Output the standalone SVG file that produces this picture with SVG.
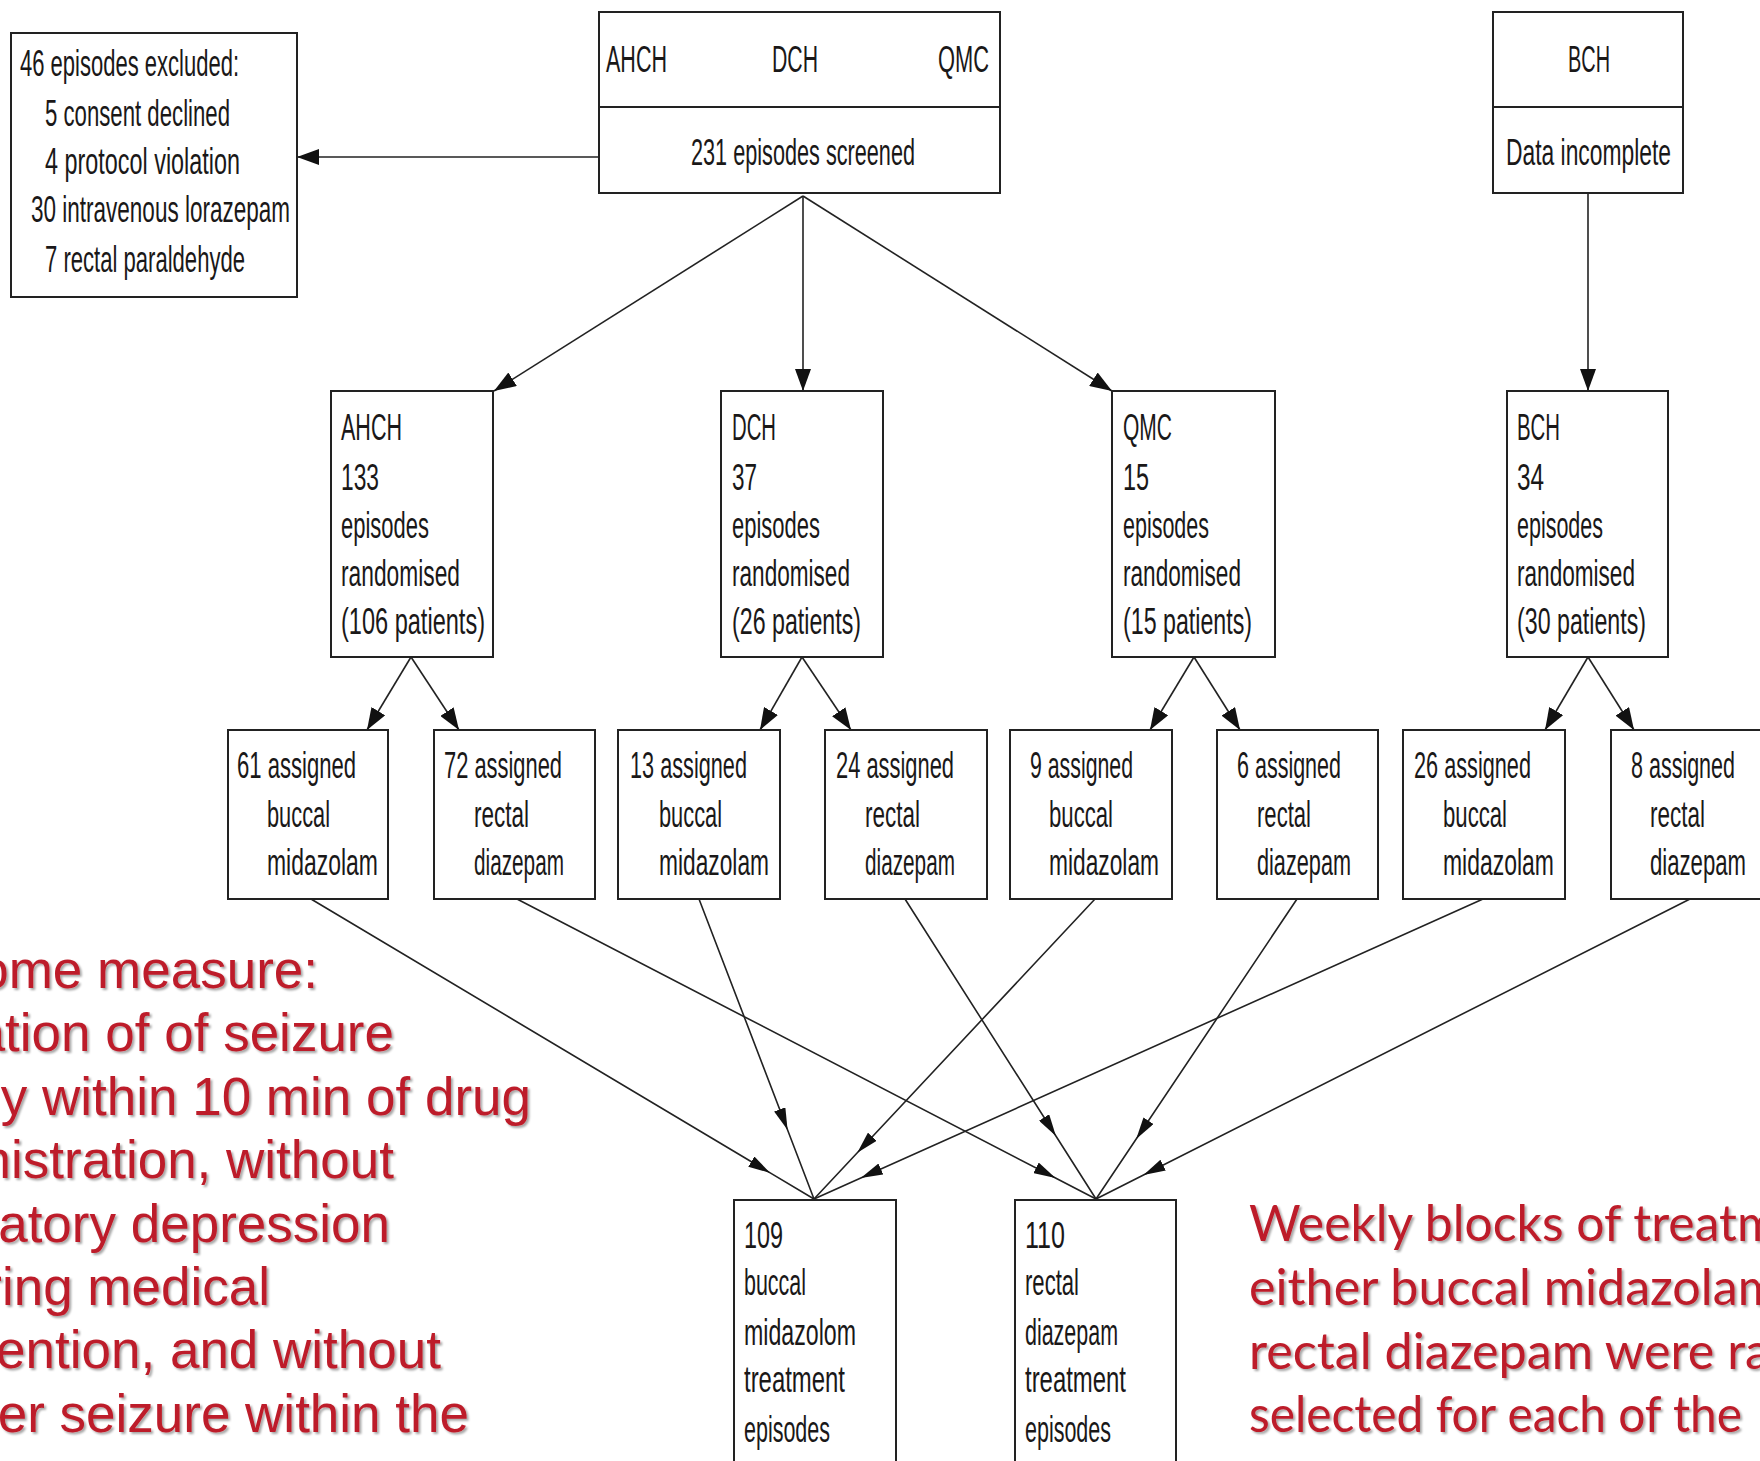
<svg xmlns="http://www.w3.org/2000/svg" width="1760" height="1461" viewBox="0 0 1760 1461">
<defs>
<style>
.box{fill:#fff;stroke:#222;stroke-width:2}
.t{font-family:'Liberation Sans',Arial,sans-serif;font-size:37px;fill:#1a1818}
.conn path{stroke:#222;stroke-width:1.6;fill:none}
.red{font-family:'Liberation Sans',Arial,sans-serif;font-size:53px;fill:#bd1d29;filter:url(#sh)}
.red2{font-family:Lato,'Open Sans',sans-serif;font-size:50px;fill:#bd1d29;filter:url(#sh)}
</style>
<marker id="ah" markerUnits="userSpaceOnUse" markerWidth="22" markerHeight="16" refX="22" refY="8" orient="auto">
<path d="M0,0 L22,8 L0,16 z" fill="#111"/>
</marker>
<marker id="am" markerUnits="userSpaceOnUse" markerWidth="22" markerHeight="12" refX="22" refY="6" orient="auto">
<path d="M0,0 L22,6 L0,12 z" fill="#111"/>
</marker>
<filter id="sh" x="-5%" y="-20%" width="110%" height="150%">
<feDropShadow dx="2" dy="2" stdDeviation="1.2" flood-color="#000" flood-opacity="0.35"/>
</filter>
</defs>
<rect width="1760" height="1461" fill="#fff"/>

<g id="connectors" class="conn">
<path d="M599,157 L297,157" marker-end="url(#ah)"/>
<path d="M803,196 L494,391" marker-end="url(#ah)"/>
<path d="M803,196 L803,391" marker-end="url(#ah)"/>
<path d="M803,196 L1112,391" marker-end="url(#ah)"/>
<path d="M1588,193 L1588,391" marker-end="url(#ah)"/>
<path d="M411,657 L367,730" marker-end="url(#ah)"/>
<path d="M411,657 L459,730" marker-end="url(#ah)"/>
<path d="M802,657 L760,730" marker-end="url(#ah)"/>
<path d="M802,657 L851,730" marker-end="url(#ah)"/>
<path d="M1194,657 L1150,730" marker-end="url(#ah)"/>
<path d="M1194,657 L1240,730" marker-end="url(#ah)"/>
<path d="M1588,657 L1545,730" marker-end="url(#ah)"/>
<path d="M1588,657 L1634,730" marker-end="url(#ah)"/>
<path d="M311,899 L770.2,1172.9 L814,1199" marker-mid="url(#am)"/>
<path d="M699,899 L787.6,1130 L814,1199" marker-mid="url(#am)"/>
<path d="M1095,899 L857.3,1152.8 L814,1199" marker-mid="url(#am)"/>
<path d="M1483,899 L860.8,1178 L814,1199" marker-mid="url(#am)"/>
<path d="M517,899 L1055.5,1178 L1096,1199" marker-mid="url(#am)"/>
<path d="M905,899 L1055.9,1136 L1096,1199" marker-mid="url(#am)"/>
<path d="M1297,899 L1136.2,1139 L1096,1199" marker-mid="url(#am)"/>
<path d="M1690,899 L1143.5,1175 L1096,1199" marker-mid="url(#am)"/>
</g>

<g id="excluded">
<rect class="box" x="11" y="33" width="286" height="264"/>
<text class="t" x="20" y="76" textLength="219" lengthAdjust="spacingAndGlyphs">46 episodes excluded:</text>
<text class="t" x="45" y="126" textLength="185" lengthAdjust="spacingAndGlyphs">5 consent declined</text>
<text class="t" x="45" y="174" textLength="195" lengthAdjust="spacingAndGlyphs">4 protocol violation</text>
<text class="t" x="31" y="222" textLength="259" lengthAdjust="spacingAndGlyphs">30 intravenous lorazepam</text>
<text class="t" x="45" y="272" textLength="200" lengthAdjust="spacingAndGlyphs">7 rectal paraldehyde</text>
</g>

<g id="screened">
<rect class="box" x="599" y="12" width="401" height="181"/>
<line x1="599" y1="107" x2="1000" y2="107" stroke="#222" stroke-width="2"/>
<text class="t" x="606" y="72" textLength="61" lengthAdjust="spacingAndGlyphs">AHCH</text>
<text class="t" x="772" y="72" textLength="46" lengthAdjust="spacingAndGlyphs">DCH</text>
<text class="t" x="938" y="72" textLength="51" lengthAdjust="spacingAndGlyphs">QMC</text>
<text class="t" x="691" y="165" textLength="224" lengthAdjust="spacingAndGlyphs">231 episodes screened</text>
</g>

<g id="bch-top">
<rect class="box" x="1493" y="12" width="190" height="181"/>
<line x1="1493" y1="107" x2="1683" y2="107" stroke="#222" stroke-width="2"/>
<text class="t" x="1568" y="72" textLength="42" lengthAdjust="spacingAndGlyphs">BCH</text>
<text class="t" x="1506" y="165" textLength="165" lengthAdjust="spacingAndGlyphs">Data incomplete</text>
</g>

<g id="ahch">
<rect class="box" x="331" y="391" width="162" height="266"/>
<text class="t" x="341" y="440" textLength="61" lengthAdjust="spacingAndGlyphs">AHCH</text>
<text class="t" x="341" y="490" textLength="38" lengthAdjust="spacingAndGlyphs">133</text>
<text class="t" x="341" y="538" textLength="88" lengthAdjust="spacingAndGlyphs">episodes</text>
<text class="t" x="341" y="586" textLength="119" lengthAdjust="spacingAndGlyphs">randomised</text>
<text class="t" x="341" y="634" textLength="144" lengthAdjust="spacingAndGlyphs">(106 patients)</text>
</g>
<g id="dch">
<rect class="box" x="721" y="391" width="162" height="266"/>
<text class="t" x="732" y="440" textLength="44" lengthAdjust="spacingAndGlyphs">DCH</text>
<text class="t" x="732" y="490" textLength="25" lengthAdjust="spacingAndGlyphs">37</text>
<text class="t" x="732" y="538" textLength="88" lengthAdjust="spacingAndGlyphs">episodes</text>
<text class="t" x="732" y="586" textLength="118" lengthAdjust="spacingAndGlyphs">randomised</text>
<text class="t" x="732" y="634" textLength="129" lengthAdjust="spacingAndGlyphs">(26 patients)</text>
</g>
<g id="qmc">
<rect class="box" x="1112" y="391" width="163" height="266"/>
<text class="t" x="1123" y="440" textLength="49" lengthAdjust="spacingAndGlyphs">QMC</text>
<text class="t" x="1123" y="490" textLength="26" lengthAdjust="spacingAndGlyphs">15</text>
<text class="t" x="1123" y="538" textLength="86" lengthAdjust="spacingAndGlyphs">episodes</text>
<text class="t" x="1123" y="586" textLength="118" lengthAdjust="spacingAndGlyphs">randomised</text>
<text class="t" x="1123" y="634" textLength="129" lengthAdjust="spacingAndGlyphs">(15 patients)</text>
</g>
<g id="bch">
<rect class="box" x="1507" y="391" width="161" height="266"/>
<text class="t" x="1517" y="440" textLength="43" lengthAdjust="spacingAndGlyphs">BCH</text>
<text class="t" x="1517" y="490" textLength="27" lengthAdjust="spacingAndGlyphs">34</text>
<text class="t" x="1517" y="538" textLength="86" lengthAdjust="spacingAndGlyphs">episodes</text>
<text class="t" x="1517" y="586" textLength="118" lengthAdjust="spacingAndGlyphs">randomised</text>
<text class="t" x="1517" y="634" textLength="129" lengthAdjust="spacingAndGlyphs">(30 patients)</text>
</g>

<g id="a61">
<rect class="box" x="228" y="730" width="160" height="169"/>
<text class="t" x="237" y="778" textLength="119" lengthAdjust="spacingAndGlyphs">61 assigned</text>
<text class="t" x="267" y="827" textLength="63" lengthAdjust="spacingAndGlyphs">buccal</text>
<text class="t" x="267" y="875" textLength="111" lengthAdjust="spacingAndGlyphs">midazolam</text>
</g>
<g id="a72">
<rect class="box" x="434" y="730" width="161" height="169"/>
<text class="t" x="444" y="778" textLength="118" lengthAdjust="spacingAndGlyphs">72 assigned</text>
<text class="t" x="474" y="827" textLength="55" lengthAdjust="spacingAndGlyphs">rectal</text>
<text class="t" x="474" y="875" textLength="90" lengthAdjust="spacingAndGlyphs">diazepam</text>
</g>
<g id="a13">
<rect class="box" x="618" y="730" width="162" height="169"/>
<text class="t" x="630" y="778" textLength="117" lengthAdjust="spacingAndGlyphs">13 assigned</text>
<text class="t" x="659" y="827" textLength="63" lengthAdjust="spacingAndGlyphs">buccal</text>
<text class="t" x="659" y="875" textLength="110" lengthAdjust="spacingAndGlyphs">midazolam</text>
</g>
<g id="a24">
<rect class="box" x="825" y="730" width="162" height="169"/>
<text class="t" x="836" y="778" textLength="118" lengthAdjust="spacingAndGlyphs">24 assigned</text>
<text class="t" x="865" y="827" textLength="55" lengthAdjust="spacingAndGlyphs">rectal</text>
<text class="t" x="865" y="875" textLength="90" lengthAdjust="spacingAndGlyphs">diazepam</text>
</g>
<g id="a9">
<rect class="box" x="1010" y="730" width="162" height="169"/>
<text class="t" x="1030" y="778" textLength="103" lengthAdjust="spacingAndGlyphs">9 assigned</text>
<text class="t" x="1049" y="827" textLength="64" lengthAdjust="spacingAndGlyphs">buccal</text>
<text class="t" x="1049" y="875" textLength="110" lengthAdjust="spacingAndGlyphs">midazolam</text>
</g>
<g id="a6">
<rect class="box" x="1217" y="730" width="161" height="169"/>
<text class="t" x="1237" y="778" textLength="104" lengthAdjust="spacingAndGlyphs">6 assigned</text>
<text class="t" x="1257" y="827" textLength="54" lengthAdjust="spacingAndGlyphs">rectal</text>
<text class="t" x="1257" y="875" textLength="94" lengthAdjust="spacingAndGlyphs">diazepam</text>
</g>
<g id="a26">
<rect class="box" x="1403" y="730" width="162" height="169"/>
<text class="t" x="1414" y="778" textLength="117" lengthAdjust="spacingAndGlyphs">26 assigned</text>
<text class="t" x="1443" y="827" textLength="64" lengthAdjust="spacingAndGlyphs">buccal</text>
<text class="t" x="1443" y="875" textLength="111" lengthAdjust="spacingAndGlyphs">midazolam</text>
</g>
<g id="a8">
<rect class="box" x="1611" y="730" width="162" height="169"/>
<text class="t" x="1631" y="778" textLength="104" lengthAdjust="spacingAndGlyphs">8 assigned</text>
<text class="t" x="1650" y="827" textLength="55" lengthAdjust="spacingAndGlyphs">rectal</text>
<text class="t" x="1650" y="875" textLength="96" lengthAdjust="spacingAndGlyphs">diazepam</text>
</g>

<g id="t109">
<rect class="box" x="734" y="1200" width="162" height="280"/>
<text class="t" x="744" y="1248" textLength="39" lengthAdjust="spacingAndGlyphs">109</text>
<text class="t" x="744" y="1295" textLength="62" lengthAdjust="spacingAndGlyphs">buccal</text>
<text class="t" x="744" y="1345" textLength="112" lengthAdjust="spacingAndGlyphs">midazolom</text>
<text class="t" x="744" y="1392" textLength="101" lengthAdjust="spacingAndGlyphs">treatment</text>
<text class="t" x="744" y="1442" textLength="86" lengthAdjust="spacingAndGlyphs">episodes</text>
</g>
<g id="t110">
<rect class="box" x="1015" y="1200" width="161" height="280"/>
<text class="t" x="1025" y="1248" textLength="40" lengthAdjust="spacingAndGlyphs">110</text>
<text class="t" x="1025" y="1295" textLength="54" lengthAdjust="spacingAndGlyphs">rectal</text>
<text class="t" x="1025" y="1345" textLength="93" lengthAdjust="spacingAndGlyphs">diazepam</text>
<text class="t" x="1025" y="1392" textLength="101" lengthAdjust="spacingAndGlyphs">treatment</text>
<text class="t" x="1025" y="1442" textLength="86" lengthAdjust="spacingAndGlyphs">episodes</text>
</g>

<g id="outcome-note" text-anchor="end">
<text class="red" x="318" y="988">ome measure:</text>
<text class="red" x="394" y="1051">ation of of seizure</text>
<text class="red" x="531" y="1115">y within 10 min of drug</text>
<text class="red" x="394" y="1178">nistration, without</text>
<text class="red" x="390" y="1242">atory depression</text>
<text class="red" x="270" y="1305">ring medical</text>
<text class="red" x="441" y="1368">ention, and without</text>
<text class="red" x="469" y="1432">er seizure within the</text>
</g>

<g id="weekly-note">
<text class="red2" x="1249" y="1241" textLength="529" lengthAdjust="spacingAndGlyphs">Weekly blocks of treatm</text>
<text class="red2" x="1249" y="1305" textLength="530" lengthAdjust="spacingAndGlyphs">either buccal midazolam</text>
<text class="red2" x="1249" y="1369" textLength="521" lengthAdjust="spacingAndGlyphs">rectal diazepam were ra</text>
<text class="red2" x="1249" y="1432" textLength="493" lengthAdjust="spacingAndGlyphs">selected for each of the</text>
</g>
</svg>
